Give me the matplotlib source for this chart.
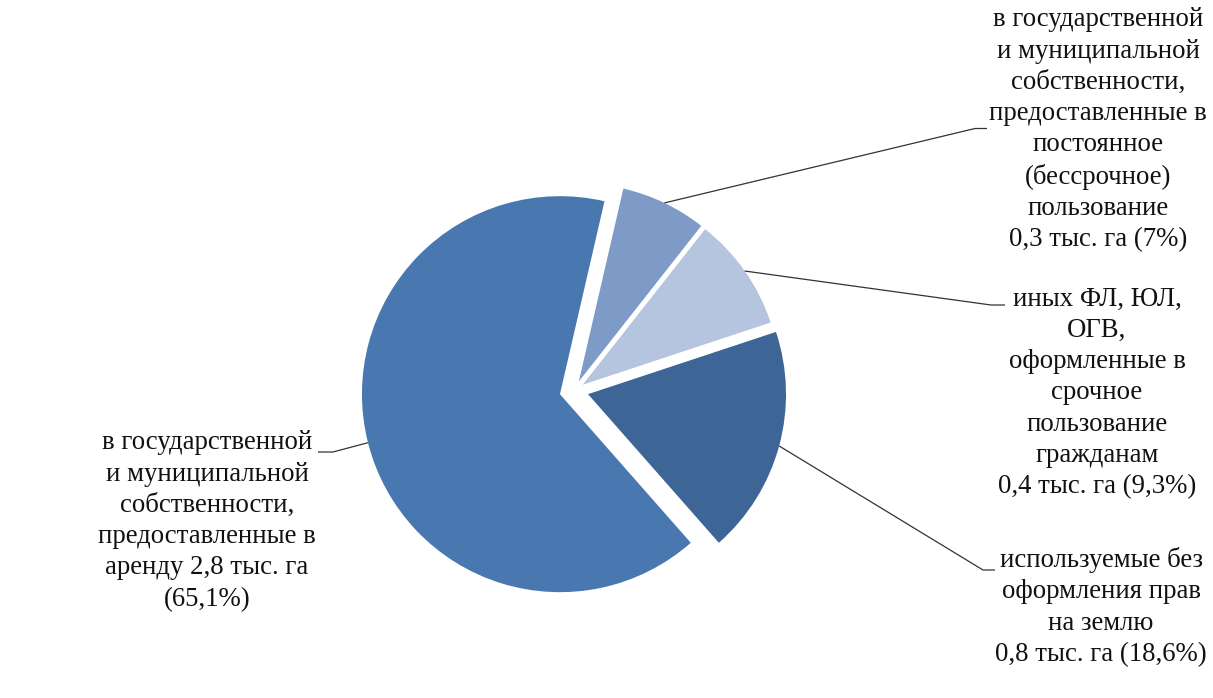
import numpy as np
import matplotlib
matplotlib.use("Agg")
import matplotlib.pyplot as plt

plt.rcParams['font.family'] = ['Liberation Serif', 'DejaVu Serif']

# Land plots by legal status (thousand ha and share, %)
categories = [
    "в государственной\nи муниципальной\nсобственности,\nпредоставленные в\nпостоянное\n(бессрочное)\nпользование",
    "иных ФЛ, ЮЛ,\nОГВ,\nоформленные в\nсрочное\nпользование\nгражданам",
    "используемые без\nоформления прав\nна землю",
    "в государственной\nи муниципальной\nсобственности,\nпредоставленные в\nаренду",
]
area_th_ha = [0.3, 0.4, 0.8, 2.8]
share_pct = [7, 9.3, 18.6, 65.1]
# separator before the area value and before the percentage
label_breaks = [("\n", " "), ("\n", " "), ("\n", " "), (" ", "\n")]

colors = ["#7e9bc8", "#b5c4df", "#3d6596", "#4978b0"]
explode = [10, 10, 14, 15]

W, H = 1213, 698
fig = plt.figure(figsize=(W / 100, H / 100), dpi=100)
ax = fig.add_axes([0, 0, 1, 1])

center = (574.5, H - 390.5)
radius = 198
wedges, _ = ax.pie(share_pct, explode=explode, colors=colors, startangle=77,
                   counterclock=False, radius=radius, center=center,
                   wedgeprops=dict(linewidth=0))
ax.set_xlim(0, W)
ax.set_ylim(0, H)
ax.set_aspect('equal')
ax.axis('off')


def fmt(v):
    return f"{v:g}".replace('.', ',')


# label box centres and leader-line elbows / ends (pixel layout, y from top)
label_pos = [(1098, 130), (1097, 393), (1101, 607), (207, 521)]
elbows = [((975, 128.5), (987, 128.5)),
          ((991, 305), (1005, 305)),
          ((983, 570), (995, 570)),
          ((333, 452), (318, 452))]

for w, cat, a, p, (s1, s2), (lx, ly), (e1, e2) in zip(
        wedges, categories, area_th_ha, share_pct, label_breaks, label_pos, elbows):
    text = f"{cat}{s1}{fmt(a)} тыс. га{s2}({fmt(p)}%)"
    ax.text(lx, H - ly, text, ha='center', va='center', fontsize=19.3,
            linespacing=1.33, color='#111111')
    mid = np.deg2rad((w.theta1 + w.theta2) / 2)
    cx, cy = w.center
    x0, y0 = cx + w.r * np.cos(mid), cy + w.r * np.sin(mid)
    ax.plot([x0, e1[0], e2[0]], [y0, H - e1[1], H - e2[1]],
            color='#333333', lw=0.9, solid_capstyle='butt')

fig.savefig("out.png", dpi=100)
